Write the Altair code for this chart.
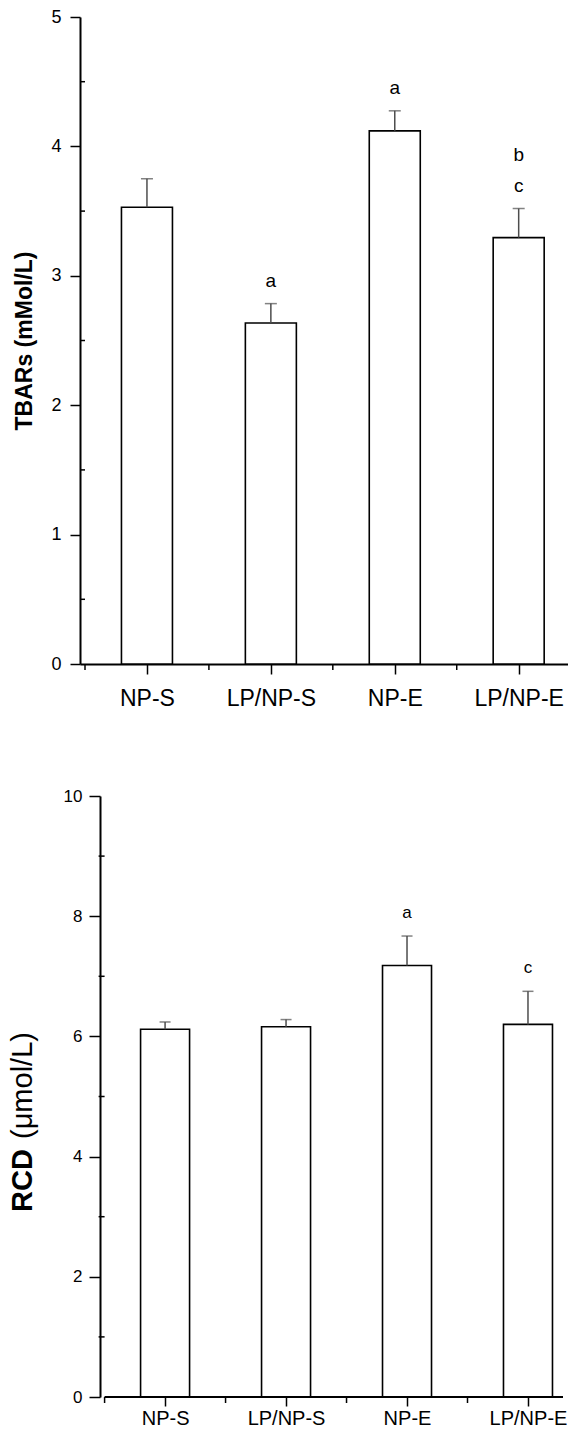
import altair as alt
import pandas as pd

# ---------------- data ----------------
categories = ["NP-S", "LP/NP-S", "NP-E", "LP/NP-E"]

tbars_mean = [3.53, 2.635, 4.12, 3.295]
tbars_err = [0.22, 0.15, 0.155, 0.225]
tbars_letter_low = ["", "a", "a", "c"]
tbars_letter_high = ["", "", "", "b"]

rcd_mean = [6.12, 6.16, 7.18, 6.20]
rcd_err = [0.12, 0.12, 0.49, 0.55]
rcd_letter_low = ["", "", "a", "c"]
rcd_letter_high = ["", "", "", ""]

tbars_y_major = [0, 1, 2, 3, 4, 5]
tbars_y_minor = [0.5, 1.5, 2.5, 3.5, 4.5]
rcd_y_major = [0, 2, 4, 6, 8, 10]
rcd_y_minor = [1, 3, 5, 7, 9]
x_major = [0, 1, 2, 3]
x_minor = [-0.5, 0.5, 1.5, 2.5]

FONT = "Liberation Sans"


def make_df(means, errs, low, high):
    return pd.DataFrame({
        "idx": list(range(len(categories))),
        "group": categories,
        "mean": means,
        "upper": [m + e for m, e in zip(means, errs)],
        "low": low,
        "high": high,
    })


# label expression: index -> category name
x_label_expr = ""
for i, c in enumerate(categories):
    x_label_expr += f"datum.value === {i} ? '{c}' : "
x_label_expr += "''"


def panel(df, xmin, xmax, ydomain, ymajor, yminor, ytick_major, ytick_minor,
          ylab_pad, ylab_size, ytitle, y_offset, xtick_major, xtick_minor,
          xlab_pad, xlab_size, bar_w, cap_w, letter_size, width, height,
          extra_layers=()):
    xscale = alt.Scale(domain=[xmin, xmax], nice=False, zero=False)
    yscale = alt.Scale(domain=ydomain, nice=False)
    x_axis = alt.Axis(
        values=x_major, labelExpr=x_label_expr,
        tickSize=xtick_major, tickColor="black", tickWidth=1.5,
        domain=(y_offset == 0), domainColor="black", domainWidth=2,
        labelFont=FONT, labelFontSize=xlab_size, labelColor="black",
        labelPadding=xlab_pad, labelFlush=False, grid=False, title=None,
    )
    y_kwargs = dict(
        values=ymajor, tickSize=ytick_major, tickColor="black",
        tickWidth=1.5, domainColor="black", domainWidth=2,
        labelFont=FONT, labelFontSize=ylab_size, labelColor="black",
        labelPadding=ylab_pad, grid=False, offset=y_offset,
    )
    if ytitle:
        y_kwargs.update(
            title=ytitle, titleFont=FONT, titleFontSize=23,
            titleFontWeight="bold", titleColor="black", titlePadding=14,
            minExtent=30, maxExtent=30,
        )
    else:
        y_kwargs.update(title=None)
    y_axis = alt.Axis(**y_kwargs)

    # every layer carries the same axis definition so the shared axes merge
    X = lambda f: alt.X(f, scale=xscale, axis=x_axis)
    Y = lambda f: alt.Y(f, scale=yscale, axis=y_axis)
    XD = lambda v: alt.datum(v, scale=xscale, axis=x_axis)
    YD = lambda v: alt.datum(v, scale=yscale, axis=y_axis)

    base = alt.Chart(df)
    bars = base.mark_bar(width=bar_w, fill="white", stroke="black",
                         strokeWidth=1.6).encode(x=X("idx:Q"), y=Y("mean:Q"))
    stem = base.mark_rule(color="#4d4d4d", strokeWidth=1.5).encode(
        x=X("idx:Q"), y=Y("mean:Q"), y2="upper:Q")
    cap = base.mark_tick(color="#4d4d4d", thickness=1.5, size=cap_w,
                         orient="horizontal").encode(
        x=X("idx:Q"), y=Y("upper:Q"))
    low = base.transform_filter("datum.low != ''").mark_text(
        font=FONT, fontSize=letter_size, color="black", baseline="middle",
        dy=-23).encode(x=X("idx:Q"), y=Y("upper:Q"), text="low:N")
    high = base.transform_filter("datum.high != ''").mark_text(
        font=FONT, fontSize=letter_size, color="black", baseline="middle",
        dy=-54).encode(x=X("idx:Q"), y=Y("upper:Q"), text="high:N")

    # minor ticks through the scales (tick length given as offsets)
    ymin_ticks = alt.Chart(pd.DataFrame({"v": yminor})).mark_rule(
        color="black", strokeWidth=1.5, x2Offset=-ytick_minor).encode(
        y=Y("v:Q"), x=XD(-0.5), x2=alt.datum(-0.5))
    xmin_ticks = alt.Chart(pd.DataFrame({"v": x_minor})).mark_rule(
        color="black", strokeWidth=1.5, y2Offset=xtick_minor).encode(
        x=X("v:Q"), y=YD(0), y2=alt.datum(0))

    layers = [bars, stem, cap, low, high, ymin_ticks, xmin_ticks]
    if y_offset != 0:
        baseline = alt.Chart(pd.DataFrame({"v": [0]})).mark_rule(
            color="black", strokeWidth=2).encode(
            x=XD(-0.5), x2=alt.datum(xmax), y=YD(0))
        layers.append(baseline)
    layers += list(extra_layers)
    return alt.layer(*layers).properties(width=width, height=height)


tbars_df = make_df(tbars_mean, tbars_err, tbars_letter_low, tbars_letter_high)
rcd_df = make_df(rcd_mean, rcd_err, rcd_letter_low, rcd_letter_high)

PLOT_W = 488

top = panel(
    tbars_df, xmin=-0.5, xmax=-0.5 + PLOT_W / 126.5, ydomain=[0, 5],
    ymajor=tbars_y_major, yminor=tbars_y_minor, ytick_major=10,
    ytick_minor=5, ylab_pad=9, ylab_size=18, ytitle="TBARs (mMol/L)",
    y_offset=0, xtick_major=10, xtick_minor=6, xlab_pad=13, xlab_size=23,
    bar_w=51, cap_w=12, letter_size=19, width=PLOT_W, height=647,
)

title_bold = alt.Chart(pd.DataFrame({"t": ["RCD"]})).mark_text(
    font=FONT, fontSize=29, fontWeight="bold", color="black", angle=270,
    align="left", baseline="alphabetic").encode(
    x=alt.value(-48), y=alt.value(416), text="t:N")
title_unit = alt.Chart(pd.DataFrame({"t": ["(\u03bcmol/L)"]})).mark_text(
    font=FONT, fontSize=29, color="black", angle=270,
    align="left", baseline="alphabetic").encode(
    x=alt.value(-48), y=alt.value(343), text="t:N")

bottom = panel(
    rcd_df, xmin=-0.5 - 20 / 123.5, xmax=-0.5 - 20 / 123.5 + PLOT_W / 123.5,
    ydomain=[0, 10], ymajor=rcd_y_major, yminor=rcd_y_minor, ytick_major=11,
    ytick_minor=6, ylab_pad=7, ylab_size=17, ytitle=None, y_offset=-20,
    xtick_major=9, xtick_minor=6, xlab_pad=2, xlab_size=20, bar_w=49,
    cap_w=11, letter_size=17, width=PLOT_W, height=601,
    extra_layers=(title_bold, title_unit),
)

chart = alt.vconcat(top, bottom, spacing=77).properties(
    padding={"left": 1, "top": 0, "right": 0, "bottom": 0}
).configure_view(stroke=None)

chart.save("out.html", embed_options={"renderer": "svg", "actions": False})
